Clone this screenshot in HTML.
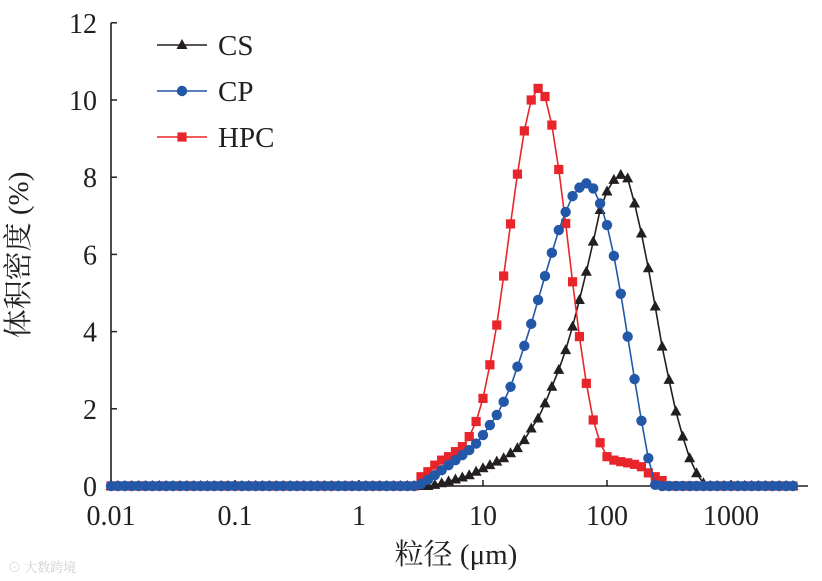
<!DOCTYPE html>
<html><head><meta charset="utf-8">
<style>
body{margin:0;background:#fff;}
svg{display:block;}
text{font-family:"Liberation Serif","Noto Serif CJK SC",serif;fill:#231f20;}
</style></head>
<body>
<svg id="chart" width="822" height="581" viewBox="0 0 822 581" xmlns="http://www.w3.org/2000/svg">
<g id="axes"></g>
<g id="series"></g>
<g id="legend"></g>
<text x="28" y="255" font-size="29" text-anchor="middle" transform="rotate(-90 28 255)">体积密度 (%)</text>
<text x="456" y="564" font-size="29" text-anchor="middle">粒径 (μm)</text>
<text x="8" y="572" font-size="13" fill="#ccc" style="fill:#cfcfcf" font-family="Liberation Sans,Noto Sans CJK SC,sans-serif">⊙ 大数跨境</text>
</svg>
<script>
const yTicks=[0,2,4,6,8,10,12];
const xTicks=[0.01,0.1,1,10,100,1000];
const xTickLabels=["0.01","0.1","1","10","100","1000"];
const nBins=100;
const csValues=new Array(47).fill(0).concat([0.03,0.07,0.12,0.17,0.22,0.28,0.37,0.46,0.54,0.63,0.72,0.85,0.98,1.19,1.49,1.75,2.14,2.57,3.01,3.52,4.13,4.82,5.55,6.33,7.15,7.63,7.93,8.06,7.97,7.32,6.54,5.64,4.65,3.61,2.75,1.93,1.28,0.72,0.33,0.07]).concat(new Array(13).fill(0));
const hpcValues=new Array(45).fill(0).concat([0.24,0.37,0.54,0.67,0.76,0.89,1.02,1.28,1.67,2.27,3.14,4.17,5.44,6.79,8.08,9.20,10.00,10.30,10.09,9.35,8.20,6.80,5.29,3.87,2.66,1.71,1.12,0.76,0.67,0.63,0.60,0.56,0.50,0.34,0.24,0.14]).concat(new Array(19).fill(0));
const cpValues=new Array(45).fill(0).concat([0.05,0.16,0.28,0.41,0.54,0.67,0.80,0.93,1.10,1.32,1.58,1.84,2.18,2.57,3.09,3.63,4.20,4.82,5.44,6.04,6.63,7.10,7.51,7.73,7.84,7.71,7.32,6.76,5.96,4.98,3.87,2.77,1.69,0.72,0.03]).concat(new Array(20).fill(0));
const sizes=[];for(let i=0;i<nBins;i++)sizes.push(0.01*Math.pow(10,i*5.5/(nBins-1)));
const seriesNames=["CS","HPC","CP"];

const NS="http://www.w3.org/2000/svg";
const X0=111,DEC=124,Y0=486,YU=38.6;
function xs(v){return X0+(Math.log10(v)+2)*DEC;}
function ys(v){return Y0-v*YU;}
function mk(tag,attrs,parent){const e=document.createElementNS(NS,tag);for(const k in attrs)e.setAttribute(k,attrs[k]);parent.appendChild(e);return e;}
const axes=document.getElementById('axes');
let l=mk('line',{x1:X0,y1:ys(12),x2:X0,y2:Y0,stroke:'#231f20','stroke-width':1.6},axes);


l=mk('line',{x1:X0,y1:Y0,x2:808,y2:Y0,stroke:'#231f20','stroke-width':1.6},axes);


yTicks.forEach(v=>{
 const t=mk('line',{x1:X0,y1:ys(v),x2:X0+6,y2:ys(v),stroke:'#231f20','stroke-width':1.5},axes);
 
 
 const tx=mk('text',{x:97,y:ys(v)+10,'font-size':28,'text-anchor':'end'},axes);
 tx.textContent=v;
 
 
});
xTicks.forEach((v,i)=>{
 const t=mk('line',{x1:xs(v),y1:Y0,x2:xs(v),y2:Y0-6,stroke:'#231f20','stroke-width':1.5},axes);
 
 
 const tx=mk('text',{x:xs(v),y:525,'font-size':28,'text-anchor':'middle'},axes);
 tx.textContent=xTickLabels[i];
 
 
});
function marker(g,type,x,y,color){
 let e;
 if(type==='tri')e=mk('polygon',{points:`${x},${y-6} ${x-5.5},${y+4} ${x+5.5},${y+4}`,fill:color},g);
 else if(type==='circ')e=mk('circle',{cx:x,cy:y,r:5.2,fill:color},g);
 else e=mk('rect',{x:x-4.6,y:y-4.6,width:9.2,height:9.2,fill:color},g);
 return e;
}
const seriesG=document.getElementById('series');
const defs=[[csValues,'#231f20','tri','series-cs'],[hpcValues,'#e8252a','sq','series-hpc'],[cpValues,'#2357a8','circ','series-cp']];
defs.forEach(([vals,color,type,name])=>{
 const g=mk('g',{},seriesG);
 
 
 const pts=vals.map((v,i)=>xs(sizes[i]).toFixed(2)+','+ys(v).toFixed(2)).join(' ');
 const pl=mk('polyline',{points:pts,fill:'none',stroke:color,'stroke-width':1.6},g);
 
 
 vals.forEach((v,i)=>{
  const m=marker(g,type,xs(sizes[i]),ys(v),color);
  
  
 });
});
const lg=document.getElementById('legend');
const legendDefs=[['CS','#231f20','tri',45],['CP','#2357a8','circ',91],['HPC','#e8252a','sq',137]];
legendDefs.forEach(([name,color,type,y])=>{
 const g=mk('g',{},lg);
 
 
 mk('line',{x1:157,y1:y,x2:207,y2:y,stroke:color,'stroke-width':1.6},g);
 marker(g,type,182,y,color);
 const t=mk('text',{x:218,y:y+10,'font-size':29},g);
 t.textContent=name;
});
</script>
</body></html>
